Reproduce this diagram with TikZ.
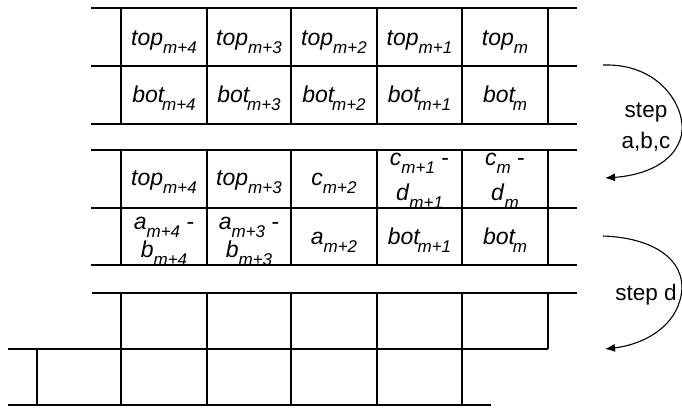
\documentclass[tikz,border=0pt]{standalone}
\usepackage{fontspec}
\setmainfont{Liberation Sans}
\usetikzlibrary{arrows.meta}

% label with a dropped subscript, optional kern between base and subscript
\newcommand{\cellsub}[3][0pt]{\textit{#2}\kern#1\raisebox{-8pt}{\fontsize{17}{17}\selectfont\textit{#3}}}

\tikzset{
  grid line/.style={line width=1.2pt},
  split line/.style={line width=2.8pt},
  cell text/.style={anchor=base, inner sep=0pt, font=\fontsize{23}{26}\selectfont},
  step text/.style={inner sep=0pt, align=center, font=\fontsize{22.5}{31}\selectfont},
  step arrow/.style={line width=1.1pt, -{Latex[length=10pt,width=8pt]}},
}

\begin{document}
\begin{tikzpicture}[x=1pt,y=-1pt]
  \useasboundingbox (0,0) rectangle (682,407);

  % first pair of rows
  \node[cell text] (topA4) at (164,45) {\cellsub{top}{m+4}};
  \node[cell text] (topA3) at (249,45) {\cellsub{top}{m+3}};
  \node[cell text] (topA2) at (334,45) {\cellsub{top}{m+2}};
  \node[cell text] (topA1) at (419.5,45) {\cellsub{top}{m+1}};
  \node[cell text] (topA0) at (505,45) {\cellsub{top}{m}};
  \node[cell text] (botA4) at (164,102) {\cellsub[-3pt]{bot}{m+4}};
  \node[cell text] (botA3) at (249,102) {\cellsub[-3pt]{bot}{m+3}};
  \node[cell text] (botA2) at (334,102) {\cellsub[-3pt]{bot}{m+2}};
  \node[cell text] (botA1) at (419.5,102) {\cellsub[-3pt]{bot}{m+1}};
  \node[cell text] (botA0) at (505,102) {\cellsub[-3pt]{bot}{m}};

  % second pair of rows, after step a,b,c
  \node[cell text] (topB4) at (164,185) {\cellsub{top}{m+4}};
  \node[cell text] (topB3) at (249,185) {\cellsub{top}{m+3}};
  \node[cell text] (cB2) at (334,185) {\cellsub{c}{m+2}};
  \node[cell text] (cB1) at (419.5,165) {\cellsub{c}{m+1} -};
  \node[cell text] (dB1) at (419.5,200) {\cellsub{d}{m+1}};
  \node[cell text] (cB0) at (505,165) {\cellsub{c}{m} -};
  \node[cell text] (dB0) at (505,200) {\cellsub{d}{m}};
  \node[cell text] (aB4) at (164,229) {\cellsub{a}{m+4} -};
  \node[cell text] (bB4) at (164,257) {\cellsub{b}{m+4}};
  \node[cell text] (aB3) at (249,229) {\cellsub{a}{m+3} -};
  \node[cell text] (bB3) at (249,257) {\cellsub{b}{m+3}};
  \node[cell text] (aB2) at (334,244) {\cellsub{a}{m+2}};
  \node[cell text] (botB1) at (419.5,244) {\cellsub[-3pt]{bot}{m+1}};
  \node[cell text] (botB0) at (505,244) {\cellsub[-3pt]{bot}{m}};

  % grid lines
  \draw[grid line] (91,8) -- (577,8) (91,66) -- (577,66) (91,124) -- (577,124);
  \draw[grid line] (91,150) -- (577,150) (91,208) -- (577,208) (91,265) -- (577,265);
  \draw[grid line] (92,293) -- (577,293) (8,349) -- (548,349) (8,405) -- (491,405);
  \foreach \y/\z in {8/66,150/208,293/349}
    \foreach \x in {121,207,377,462,548} \draw[grid line] (\x,\y) -- (\x,\z);
  \foreach \y/\z in {66/124,208/265}
    \foreach \x in {121,207,291,462,548} \draw[grid line] (\x,\y) -- (\x,\z);
  \foreach \x in {37,121,207,377,462} \draw[grid line] (\x,349) -- (\x,405);
  \draw[split line] (291,8) -- (291,66) (377,66) -- (377,124);
  \draw[split line] (291,150) -- (291,208) (377,208) -- (377,265);
  \draw[split line] (291,293) -- (291,405);

  % steps
  \coordinate (abcFrom) at (603,65);
  \coordinate (abcTo) at (605,178);
  \coordinate (dFrom) at (603,236);
  \coordinate (dTo) at (605,349);
  \draw[step arrow] (abcFrom) .. controls (665,63) and (690,115) .. (680,140)
    .. controls (670,168) and (635,176) .. (abcTo);
  \draw[step arrow] (dFrom) .. controls (660,238) and (690,265) .. (680,300)
    .. controls (672,330) and (640,345) .. (dTo);
  \node[step text] (stepabc) at (646,127) {step\\a,b,c};
  \node[step text] (stepd) at (646,295) {step d};
\end{tikzpicture}
\end{document}
